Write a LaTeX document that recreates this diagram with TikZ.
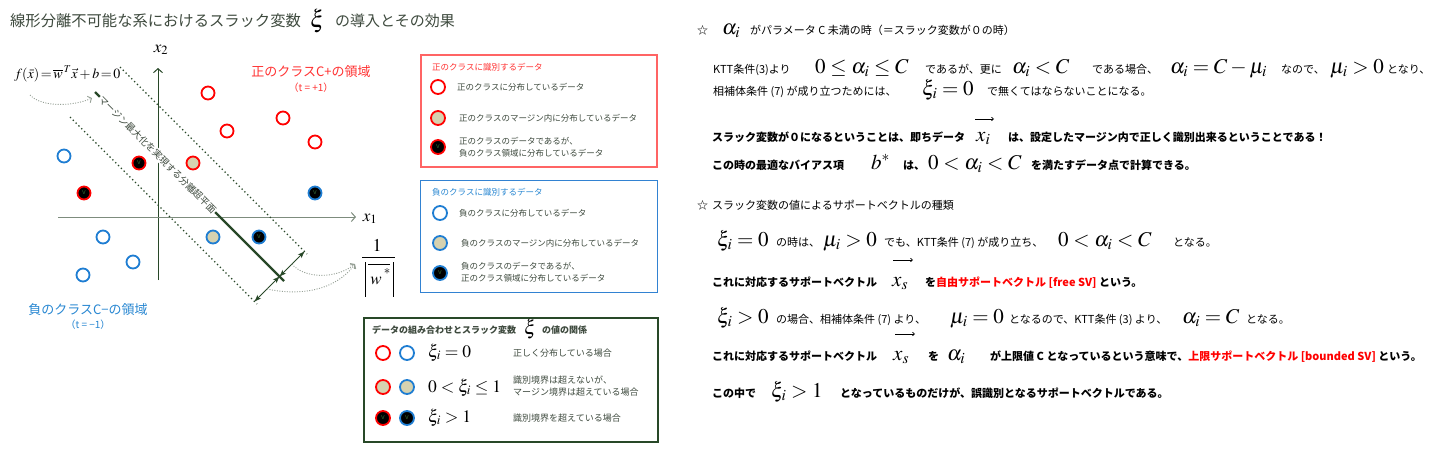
\documentclass[tikz,border=0pt]{standalone}
\usepackage{mathptmx}
\usepackage[no-math]{fontspec}
\setmainfont{Noto Sans CJK JP}
\usetikzlibrary{arrows.meta}
\definecolor{cred}{RGB}{255,0,0}
\definecolor{cblue}{RGB}{30,125,210}
\definecolor{cbeige}{RGB}{214,210,176}
\definecolor{cgreen}{RGB}{40,72,40}
\definecolor{ctext}{RGB}{62,74,62}
\definecolor{caxis}{RGB}{125,140,125}
\definecolor{cdot}{RGB}{150,160,150}
\definecolor{cboxred}{RGB}{255,100,100}
\definecolor{cboxblue}{RGB}{50,130,210}
\definecolor{clabred}{RGB}{255,50,50}
\definecolor{clabblue}{RGB}{40,135,210}
\definecolor{cvee}{RGB}{50,100,50}
\newcommand\fsz[1]{\fontsize{#1}{#1}\selectfont}
\newcommand\mth[2][21]{{\fontsize{#1}{#1}\selectfont$#2$}}
\tikzset{
  jp/.style={inner sep=0pt, anchor=base west, text=black, font=\fsz{11}},
  jpb/.style={inner sep=0pt, anchor=base west, text=black, font=\fsz{11}\bfseries},
  mathnd/.style={inner sep=0pt, anchor=base west, text=black},
  lgtext/.style={inner sep=0pt, anchor=base west, text=ctext, font=\fsz{8.5}},
  lgtextb/.style={inner sep=0pt, anchor=base west, text=ctext, font=\fsz{9}},
  dotbase/.style={circle, line width=1.8pt, minimum size=13pt, inner sep=0pt, text=cvee, font=\fsz{7}},
  posopen/.style={dotbase, draw=cred, fill=white},
  posmar/.style={dotbase, draw=cred, fill=cbeige},
  posmis/.style={dotbase, draw=cred, fill=black},
  negopen/.style={dotbase, draw=cblue, fill=white},
  negmar/.style={dotbase, draw=cblue, fill=cbeige},
  negmis/.style={dotbase, draw=cblue, fill=black},
  axisline/.style={line width=1pt, -{Straight Barb[length=4pt,width=9pt]}},
  marginline/.style={cgreen, line width=1.3pt, dash pattern=on 1.3pt off 2.7pt},
  hyper/.style={cgreen, line width=2.4pt},
  dbl/.style={cgreen, line width=0.8pt, {Stealth[length=7pt,width=5pt]}-{Stealth[length=7pt,width=5pt]}},
  curvy/.style={cdot, line width=0.9pt, dash pattern=on 1pt off 1.5pt, -{Straight Barb[length=3pt,width=7pt]}},
  vecar/.style={black, line width=0.7pt, -{Straight Barb[length=2pt,width=3.5pt]}},
}
\begin{document}
\begin{tikzpicture}[x=1pt,y=-1pt]
\useasboundingbox (0,0) rectangle (1452,464);
\fill[white] (0,0) rectangle (1452,464);

% ---------- title
\node[inner sep=0pt, anchor=base west, text=ctext, font=\fsz{15.3}] (ttl1) at (10,26) {線形分離不可能な系におけるスラック変数};
\node[mathnd] (ttlxi) at (310,27) {\mth[24]{\xi}};
\node[inner sep=0pt, anchor=base west, text=ctext, font=\fsz{15}] (ttl2) at (335,26) {の導入とその効果};

% ---------- axes
\coordinate (ax2a) at (158,280); \coordinate (ax2b) at (158,68);
\coordinate (ax1a) at (58,217); \coordinate (ax1b) at (356,217);
\draw[axisline, cgreen] (ax2a) -- (ax2b);
\draw[axisline, caxis] (ax1a) -- (ax1b);
\node[inner sep=0pt] (x2lab) at (161,50) {\mth[17]{x_2}};
\node[inner sep=0pt] (x1lab) at (370,219) {\mth[17]{x_1}};

% ---------- margins and hyperplane
\coordinate (mua) at (120,67); \coordinate (mub) at (307,254);
\coordinate (mla) at (70,117); \coordinate (mlb) at (257,304);
\draw[marginline] (mua) -- (mub);
\draw[marginline] (mla) -- (mlb);
\coordinate (hpA) at (95,92); \coordinate (hpB) at (284,281);
\draw[hyper] (hpA) -- (hpB);
\node[rotate=-45, fill=white, inner sep=0.8pt, text=ctext, font=\fsz{9.5}] (hplab) at (157.5,154.5) {マージン最大化を実現する分離超平面};

\coordinate (mp) at (279.5,276.5);
\coordinate (mu) at (304.5,251.5);
\coordinate (ml) at (254.5,301.5);
\draw[dbl] (mp) -- (mu);
\draw[dbl] (mp) -- (ml);

% ---------- formula
\node[mathnd] (fx) at (14,78) {\mth[14]{f(\bar{x})\!=\!\overline{w}^{\,T}\vec{x}+b\!=\!0}};
\coordinate (fxs) at (30,95);
\coordinate (hpin) at (92,98);
\draw[curvy] (fxs) .. controls (42,108) and (75,106) .. (hpin);

% ---------- fraction 1/|w*|
\node[inner sep=0pt] (fone) at (377,245) {\mth[18]{1}};
\draw[black, line width=0.9pt] (362,257) -- (395,257);
\draw[black, line width=0.9pt] (365,262) -- (365,297);
\draw[black, line width=0.9pt] (393,262) -- (393,297);
\draw[black, line width=0.7pt] (368,264) -- (390,264);
\node[inner sep=0pt] (fw) at (376,281) {\mth[17]{w}};
\node[inner sep=0pt] (fstar) at (387,271) {\mth[13]{*}};
\coordinate (fracin) at (355,264);
\coordinate (mum) at (292,264);
\coordinate (mlm) at (267,289);
\draw[curvy] (mum) .. controls (303,278) and (335,280) .. (fracin);
\draw[curvy] (mlm) .. controls (300,296) and (335,291) .. (fracin);

% ---------- data points
\node[posopen] (p1) at (208,93) {};
\node[posopen] (p2) at (283,118) {};
\node[posopen] (p3) at (227,131) {};
\node[posopen] (p4) at (315,142) {};
\node[posmar] (p5) at (193,163) {};
\node[posmis] (p6) at (139,163) {v};
\node[posmis] (p7) at (84,193) {v};
\node[negopen] (n1) at (64,156) {};
\node[negopen] (n2) at (103,237) {};
\node[negopen] (n3) at (133,262) {};
\node[negopen] (n4) at (83,275) {};
\node[negmar] (n5) at (213,237) {};
\node[negmis] (n6) at (259,237) {v};
\node[negmis] (n7) at (315,193) {v};

% ---------- region labels
\node[inner sep=0pt, font=\fsz{13}, text=clabred] (posreg) at (311,72) {正のクラスC+の領域};
\node[inner sep=0pt, font=\fsz{10}, text=clabred] (posregt) at (311,88) {（t = +1）};
\node[inner sep=0pt, font=\fsz{13}, text=clabblue] (negreg) at (88,310) {負のクラスC−の領域};
\node[inner sep=0pt, font=\fsz{10}, text=clabblue] (negregt) at (88,325) {（t = −1）};

% ---------- legend box 1
\draw[cboxred, line width=1.2pt] (421,55) rectangle (657,167);
\node[lgtext, text=clabred] (b1t) at (432,70) {正のクラスに識別するデータ};
\node[posopen, minimum size=14pt] (b1c1) at (438,87) {};
\node[lgtext] (b1x1) at (457,90) {正のクラスに分布しているデータ};
\node[posmar, minimum size=14pt] (b1c2) at (438,118) {};
\node[lgtext] (b1x2) at (459,121) {正のクラスのマージン内に分布しているデータ};
\node[posmis, minimum size=14pt] (b1c3) at (438,147) {v};
\node[lgtext] (b1x3) at (459,144) {正のクラスのデータであるが、};
\node[lgtext] (b1x4) at (459,156) {負のクラス領域に分布しているデータ};

% ---------- legend box 2
\draw[cboxblue, line width=1pt] (420,180) rectangle (657,292);
\node[lgtext, text=clabblue] (b2t) at (432,195) {負のクラスに識別するデータ};
\node[negopen, minimum size=14pt] (b2c1) at (440,213) {};
\node[lgtext] (b2x1) at (459,216) {負のクラスに分布しているデータ};
\node[negmar, minimum size=14pt] (b2c2) at (440,243) {};
\node[lgtext] (b2x2) at (461,246) {負のクラスのマージン内に分布しているデータ};
\node[negmis, minimum size=14pt] (b2c3) at (440,273) {v};
\node[lgtext] (b2x3) at (461,269) {負のクラスのデータであるが、};
\node[lgtext] (b2x4) at (461,281) {正のクラス領域に分布しているデータ};

% ---------- legend box 3
\draw[cgreen, line width=1.8pt] (364,318) rectangle (658,442);
\node[inner sep=0pt, anchor=base west, text=ctext, font=\fsz{9}\bfseries] (b3t1) at (372,333) {データの組み合わせとスラック変数};
\node[mathnd] (b3xi) at (524,334) {\mth[20]{\xi}};
\node[inner sep=0pt, anchor=base west, text=ctext, font=\fsz{9}\bfseries] (b3t2) at (542,333) {の値の関係};
\node[posopen, minimum size=14pt] (b3r1a) at (383,353) {};
\node[negopen, minimum size=14pt] (b3r1b) at (407,353) {};
\node[mathnd] (b3m1) at (428,357) {\mth[17.5]{\xi_i=0}};
\node[lgtextb] (b3x1) at (513,356) {正しく分布している場合};
\node[posmar, minimum size=14pt] (b3r2a) at (383,387) {};
\node[negmar, minimum size=14pt] (b3r2b) at (407,387) {};
\node[mathnd] (b3m2) at (428,392) {\mth[17.5]{0<\xi_i\le 1}};
\node[lgtextb] (b3x2) at (513,383) {識別境界は超えないが、};
\node[lgtextb] (b3x3) at (513,395) {マージン境界は超えている場合};
\node[posmis, minimum size=14pt] (b3r3a) at (383,418) {v};
\node[negmis, minimum size=14pt] (b3r3b) at (407,418) {v};
\node[mathnd] (b3m3) at (428,422) {\mth[17.5]{\xi_i>1}};
\node[lgtextb] (b3x4) at (513,421) {識別境界を超えている場合};

% ---------- right text
% L1
\node[jp] (s1) at (697,34) {☆};
\node[mathnd] (a1) at (722,34) {\mth{\alpha_i}};
\node[jp] (t1) at (750,34) {がパラメータ C 未満の時（＝スラック変数が０の時）};
% L2
\node[jp] (t2a) at (713,73) {KTT条件(3)より};
\node[mathnd] (m2a) at (815,73) {\mth{0\le\alpha_i\le C}};
\node[jp] (t2b) at (925,73) {であるが、更に};
\node[mathnd] (m2b) at (1012,73) {\mth{\alpha_i<C}};
\node[jp] (t2c) at (1092,73) {である場合、};
\node[mathnd] (m2c) at (1170,73) {\mth{\alpha_i=C-\mu_i}};
\node[jp] (t2d) at (1281,73) {なので、};
\node[mathnd] (m2d) at (1330,73) {\mth{\mu_i>0}};
\node[jp] (t2e) at (1387,73) {となり、};
% L3
\node[jp] (t3a) at (713,95) {相補体条件 (7) が成り立つためには、};
\node[mathnd] (m3a) at (922,95) {\mth{\xi_i=0}};
\node[jp] (t3b) at (987,95) {で無くてはならないことになる。};
% L4
\node[jpb] (t4a) at (712,141) {スラック変数が０になるということは、即ちデータ};
\node[mathnd] (m4a) at (976,141) {\mth{x_i}};
\draw[vecar] (975,119) -- (994,119);
\node[jpb] (t4b) at (1008,141) {は、設定したマージン内で正しく識別出来るということである！};
% L5
\node[jpb] (t5a) at (712,169) {この時の最適なバイアス項};
\node[mathnd] (m5a) at (871,169) {\mth{b^*}};
\node[jpb] (t5b) at (903,169) {は、};
\node[mathnd] (m5b) at (928,169) {\mth{0<\alpha_i<C}};
\node[jpb] (t5c) at (1031,169) {を満たすデータ点で計算できる。};
% L6
\node[jp] (s6) at (697,209) {☆};
\node[jp] (t6) at (712,209) {スラック変数の値によるサポートベクトルの種類};
% L7
\node[mathnd] (m7a) at (717,246) {\mth{\xi_i=0}};
\node[jp] (t7a) at (776,246) {の時は、};
\node[mathnd] (m7b) at (823,246) {\mth{\mu_i>0}};
\node[jp] (t7b) at (884,246) {でも、KTT条件 (7) が成り立ち、};
\node[mathnd] (m7c) at (1058,246) {\mth{0<\alpha_i<C}};
\node[jp] (t7c) at (1173,246) {となる。};
% L8
\node[jpb] (t8a) at (712,286) {これに対応するサポートベクトル};
\node[mathnd] (m8a) at (892,286) {\mth{x_s}};
\draw[vecar] (893,260) -- (913,260);
\node[jpb] (t8b) at (925,286) {を\textcolor{red}{自由サポートベクトル [free SV]} という。};
% L9
\node[mathnd] (m9a) at (717,323) {\mth{\xi_i>0}};
\node[jp] (t9a) at (776,323) {の場合、相補体条件 (7) より、};
\node[mathnd] (m9b) at (950,323) {\mth{\mu_i=0}};
\node[jp] (t9b) at (1009,323) {となるので、KTT条件 (3) より、};
\node[mathnd] (m9c) at (1182,323) {\mth{\alpha_i=C}};
\node[jp] (t9c) at (1246,323) {となる。};
% L10
\node[jpb] (t10a) at (712,360) {これに対応するサポートベクトル};
\node[mathnd] (m10a) at (893,360) {\mth{x_s}};
\draw[vecar] (895,334) -- (915,334);
\node[jpb] (t10b) at (928,360) {を};
\node[mathnd] (m10b) at (947,360) {\mth{\alpha_i}};
\node[jpb] (t10c) at (990,360) {が上限値 C となっているという意味で、\textcolor{red}{上限サポートベクトル [bounded SV]} という。};
% L11
\node[jpb] (t11a) at (712,397) {この中で};
\node[mathnd] (m11a) at (771,397) {\mth{\xi_i>1}};
\node[jpb] (t11b) at (840,397) {となっているものだけが、誤識別となるサポートベクトルである。};
\end{tikzpicture}
\end{document}
